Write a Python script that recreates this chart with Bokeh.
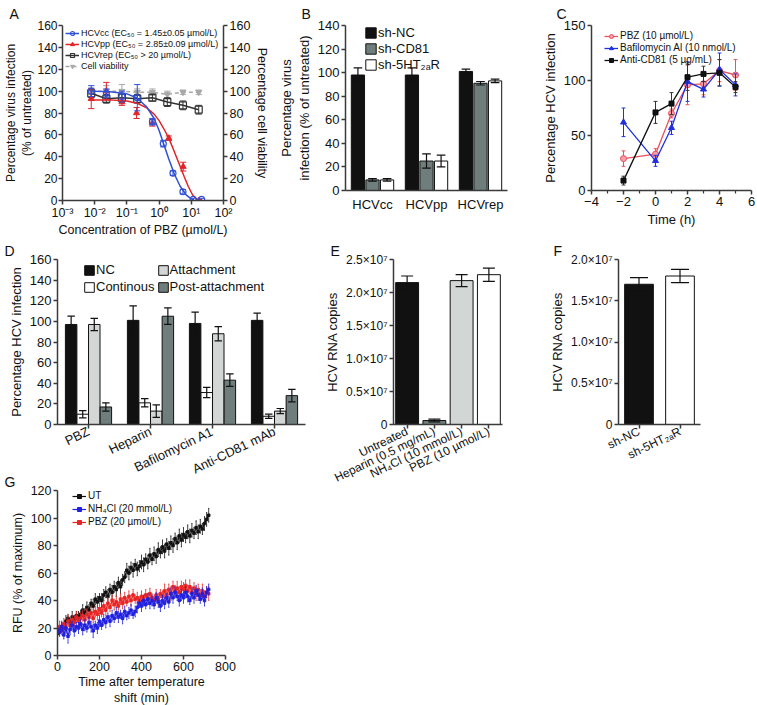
from bokeh.plotting import figure
from bokeh.layouts import row, column
from bokeh.models import ColumnDataSource, Legend, LegendItem, FixedTicker, LinearAxis
from bokeh.transform import dodge
from bokeh.embed import file_html
from bokeh.resources import INLINE

FONT = "Liberation Sans"
AXC = "#3a3a3a"
TXT = "#111111"
BLACK = "#111111"
DGRAY = "#6f7e7c"
LGRAY = "#d2d7d6"
WHITE = "#ffffff"

# ---------------- Panel A data ----------------
a_xticks = [0.001, 0.01, 0.1, 1, 10, 100]
a_xlabels = ["10⁻³", "10⁻²", "10⁻¹", "10⁰", "10¹", "10²"]
a_yticks = [0, 20, 40, 60, 80, 100, 120, 140, 160]
a_cc_x = [0.0078, 0.023, 0.07, 0.21, 0.62, 1.35, 2.7, 5.5, 11.5, 21.0]
a_cc_y = [100, 98, 95, 94, 72, 52, 25, 8, 1, 1]
a_cc_e = [5, 4, 5, 12, 3, 3, 2, 2, 1, 1]
a_cc_fit_x = [0.0075, 0.03, 0.1, 0.2, 0.4, 0.7, 1.0, 1.45, 2.0, 3.0, 4.5, 7.0, 10.0, 12.0]
a_cc_fit_y = [100, 99.5, 97.5, 94, 86, 75, 64, 50, 38, 24, 13, 5, 1.5, 0.5]
a_pp_x = [0.0078, 0.023, 0.07, 0.2, 0.62, 2.0, 5.6, 17.0]
a_pp_y = [93, 100, 90, 80, 71, 57, 31, 0]
a_pp_e = [9, 8, 3, 5, 3, 2, 4, 1]
a_pp_fit_x = [0.0075, 0.03, 0.1, 0.2, 0.4, 0.7, 1.0, 1.5, 2.0, 2.85, 4.0, 6.0, 8.0, 11.0, 15.0, 17.0]
a_pp_fit_y = [92, 92, 91, 89, 85, 79, 73, 64, 57, 46, 35, 22, 13, 5, 1, 0]
a_rep_x = [0.0078, 0.023, 0.07, 0.21, 0.62, 1.8, 5.5, 17.0]
a_rep_y = [98, 93, 94, 93, 94, 90, 87, 83]
a_rep_e = [4, 4, 4, 4, 3, 4, 4, 4]
a_via_x = [0.0078, 0.023, 0.07, 0.21, 0.62, 1.8, 5.5, 17.0]
a_via_y = [100, 100, 100, 99, 99, 97, 99, 99]
a_via_e = [3, 5, 6, 3, 3, 3, 2, 2]

# ---------------- Panel B data ----------------
b_cats = ["HCVcc", "HCVpp", "HCVrep"]
b_nc = [98, 98, 101]
b_nc_e = [6, 6, 2]
b_cd81 = [9, 25, 91]
b_cd81_e = [1, 6, 1.5]
b_5ht = [9, 25, 93]
b_5ht_e = [1, 5, 1.5]
b_yticks = [0, 20, 40, 60, 80, 100, 120, 140]

# ---------------- Panel C data ----------------
c_x = [-2, 0, 1, 2, 3, 4, 5]
c_pbz = [29, 33, 70, 96, 97, 109, 105]
c_pbz_e = [7, 5, 4, 18, 10, 10, 14]
c_baf = [62, 27, 57, 99, 92, 110, 96]
c_baf_e = [13, 5, 6, 18, 7, 15, 10]
c_cd81 = [9, 71, 79, 103, 106, 107, 94]
c_cd81_e = [4, 10, 10, 12, 7, 12, 5]
c_xticks = [-4, -2, 0, 2, 4, 6]
c_xminor = [-3, -1, 1, 3, 5]
c_yticks = [0, 50, 100, 150]

# ---------------- Panel D data ----------------
d_cats = ["PBZ", "Heparin", "Bafilomycin A1", "Anti-CD81 mAb"]
d_nc = [97, 101, 98, 101]
d_nc_e = [8, 14, 11, 7]
d_cont = [10, 21, 31, 8]
d_cont_e = [3.5, 4, 5, 2]
d_att = [97, 13, 88, 13]
d_att_e = [6, 6, 7, 2.5]
d_post = [17, 105, 43, 28]
d_post_e = [4, 8, 6, 6]
d_yticks = [0, 20, 40, 60, 80, 100, 120, 140, 160]

# ---------------- Panel E data ----------------
e_cats = ["Untreated", "Heparin (0.5 mg/mL)", "NH₄Cl (10 mmol/L)", "PBZ (10 µmol/L)"]
e_vals = [2.15e7, 0.06e7, 2.18e7, 2.27e7]
e_errs = [0.1e7, 0.02e7, 0.09e7, 0.1e7]
e_colors = [BLACK, DGRAY, LGRAY, WHITE]
e_yticks = [0, 5000000, 10000000, 15000000, 20000000, 25000000]
e_ylabels = ["0", "0.5×10⁷", "1.0×10⁷", "1.5×10⁷", "2.0×10⁷", "2.5×10⁷"]

# ---------------- Panel F data ----------------
f_cats = ["sh-NC", "sh-5HT₂ₐR"]
f_vals = [1.70e7, 1.80e7]
f_errs = [0.08e7, 0.08e7]
f_colors = [BLACK, WHITE]
f_yticks = [0, 5000000, 10000000, 15000000, 20000000]
f_ylabels = ["0", "0.5×10⁷", "1.0×10⁷", "1.5×10⁷", "2.0×10⁷"]

# ---------------- Panel G data ----------------
g_t = list(range(0, 721, 10))
g_ut = [16, 18, 21, 20, 25, 27, 24, 28, 26, 29,
        28, 30, 33, 31, 35, 33, 38, 36, 41, 39,
        42, 40, 44, 46, 43, 48, 46, 50, 48, 53,
        50, 55, 57, 62, 60, 64, 62, 66, 63, 65,
        68, 66, 70, 68, 73, 70, 74, 72, 77, 75,
        79, 76, 81, 78, 82, 80, 85, 82, 87, 84,
        88, 86, 90, 87, 91, 89, 93, 90, 94, 92,
        96, 99, 102]
g_ut_e = [2, 3, 3, 2, 4, 3, 3, 4, 3, 3,
          4, 3, 4, 3, 4, 4, 3, 5, 4, 4,
          3, 5, 4, 4, 5, 4, 5, 4, 5, 4,
          5, 4, 4, 5, 5, 4, 5, 4, 5, 4,
          5, 5, 4, 5, 5, 4, 5, 5, 5, 4,
          5, 5, 4, 5, 5, 5, 4, 5, 5, 5,
          5, 4, 5, 5, 5, 4, 5, 5, 5, 4,
          5, 5, 5]
g_nh4 = [19, 17, 21, 15, 20, 14, 19, 22, 18, 21,
         20, 23, 19, 22, 20, 24, 21, 18, 22, 20,
         25, 22, 26, 24, 28, 25, 29, 27, 31, 28,
         30, 27, 32, 29, 31, 33, 30, 32, 35, 38,
         36, 40, 37, 41, 38, 40, 37, 42, 39, 36,
         40, 38, 42, 39, 45, 42, 46, 43, 40, 44,
         42, 46, 43, 40, 45, 42, 47, 44, 41, 45,
         40, 46, 48]
g_nh4_e = [3, 3, 4, 3, 4, 5, 4, 3, 4, 3,
           4, 3, 4, 4, 3, 4, 4, 5, 3, 4,
           4, 3, 4, 4, 3, 4, 4, 3, 4, 4,
           3, 4, 4, 3, 4, 4, 3, 4, 4, 3,
           4, 4, 3, 4, 4, 4, 3, 4, 4, 4,
           4, 4, 3, 4, 4, 4, 4, 3, 4, 4,
           4, 4, 4, 3, 4, 4, 4, 4, 3, 4,
           4, 4, 4]
g_pbz = [19, 21, 18, 23, 20, 25, 22, 26, 24, 28,
         25, 27, 29, 26, 30, 28, 31, 27, 32, 30,
         34, 31, 36, 33, 38, 35, 40, 37, 39, 36,
         41, 38, 42, 39, 43, 40, 44, 41, 42, 39,
         43, 40, 44, 41, 45, 42, 40, 44, 41, 45,
         43, 47, 44, 48, 45, 50, 47, 49, 46, 50,
         48, 51, 47, 50, 46, 49, 45, 48, 44, 47,
         43, 46, 45]
g_pbz_e = [3, 4, 3, 4, 3, 4, 4, 3, 4, 4,
           3, 4, 4, 3, 4, 4, 4, 3, 4, 4,
           4, 3, 4, 4, 4, 3, 4, 4, 4, 3,
           4, 4, 4, 3, 4, 4, 4, 3, 4, 4,
           4, 3, 4, 4, 4, 3, 4, 4, 4, 3,
           4, 5, 4, 4, 5, 4, 4, 5, 4, 4,
           5, 4, 4, 5, 4, 4, 5, 4, 4, 5,
           4, 4, 5]
g_xticks = [0, 200, 400, 600, 800]
g_yticks = [0, 20, 40, 60, 80, 100, 120]


def mkfig(fw, fh, bl, br, bt, bb, **kw):
    p = figure(frame_width=fw, frame_height=fh, min_border_left=bl, min_border_right=br,
               min_border_top=bt, min_border_bottom=bb, output_backend="svg",
               toolbar_location=None, **kw)
    p.grid.visible = False
    p.outline_line_color = None
    p.background_fill_color = None
    p.border_fill_color = None
    return p


def style_axes(p, tick_fs="13px", lab_fs="13px"):
    for ax in p.axis:
        ax.axis_line_color = AXC
        ax.axis_line_width = 1.5
        ax.major_tick_line_color = AXC
        ax.major_tick_line_width = 1.5
        ax.major_tick_out = 4
        ax.major_tick_in = 0
        ax.minor_tick_line_color = None
        ax.major_label_text_font = FONT
        ax.major_label_text_font_size = tick_fs
        ax.major_label_text_color = TXT
        ax.major_label_standoff = 2
        ax.axis_label_text_font = FONT
        ax.axis_label_text_font_size = lab_fs
        ax.axis_label_text_font_style = "normal"
        ax.axis_label_text_color = TXT
        ax.axis_label_standoff = 3


def letter(p, txt, off, standoff):
    p.title.text = txt
    p.title.align = "left"
    p.title.offset = off
    p.title.standoff = standoff
    p.title.text_font = FONT
    p.title.text_font_size = "14px"
    p.title.text_font_style = "normal"
    p.title.text_color = TXT


def style_legend(lg, fs, gw, gh, lh, spacing):
    lg.label_text_font = FONT
    lg.label_text_font_size = fs
    lg.label_text_color = TXT
    lg.glyph_width = gw
    lg.glyph_height = gh
    lg.label_height = lh
    lg.label_standoff = 2
    lg.spacing = spacing
    lg.padding = 0
    lg.margin = 0
    lg.border_line_color = None
    lg.background_fill_alpha = 0


def errbars_num(p, x, y, e, color, log=False, cap=0.0, lw=1.0):
    x0 = []
    x1 = []
    for xv in x:
        if log:
            x0.append(xv / cap)
            x1.append(xv * cap)
        else:
            x0.append(xv - cap)
            x1.append(xv + cap)
    lo = [yv - ev for yv, ev in zip(y, e)]
    hi = [yv + ev for yv, ev in zip(y, e)]
    p.segment(x0=x, x1=x, y0=lo, y1=hi, line_color=color, line_width=lw)
    if cap:
        p.segment(x0=x0, x1=x1, y0=hi, y1=hi, line_color=color, line_width=lw)
        p.segment(x0=x0, x1=x1, y0=lo, y1=lo, line_color=color, line_width=lw)


def bars_dodge(p, cats, vals, errs, off, width, color):
    src = ColumnDataSource(dict(cat=cats, top=vals,
                                hi=[v + e for v, e in zip(vals, errs)],
                                lo=[v - e for v, e in zip(vals, errs)]))
    r = p.vbar(x=dodge("cat", off, range=p.x_range), top="top", width=width, source=src,
               fill_color=color, line_color="#111111", line_width=1)
    return r, src


def errs_dodge(p, src, off, cw):
    p.segment(x0=dodge("cat", off, range=p.x_range), x1=dodge("cat", off, range=p.x_range),
              y0="lo", y1="hi", source=src, line_color="#111111", line_width=1.2)
    for k in ("hi", "lo"):
        p.segment(x0=dodge("cat", off - cw, range=p.x_range), x1=dodge("cat", off + cw, range=p.x_range),
                  y0=k, y1=k, source=src, line_color="#111111", line_width=1.2)


# =============== Panel A ===============
BLUE_A = "#3050d8"
RED_A = "#e02428"
GRAY_A = "#a8a8a8"
pA = mkfig(161, 175, 57, 48, 24, 35, x_axis_type="log", x_range=(1e-3, 1e2), y_range=(0, 160))
pA.add_layout(LinearAxis(), "right")
style_axes(pA, tick_fs="12.5px", lab_fs="12.5px")
pA.xaxis.ticker = FixedTicker(ticks=a_xticks)
pA.xaxis.major_label_overrides = dict(zip(a_xticks, a_xlabels))
pA.xaxis.major_label_standoff = 1
pA.xaxis.axis_label_standoff = 0
for ax in pA.yaxis:
    ax.ticker = FixedTicker(ticks=a_yticks)
pA.yaxis[0].axis_label = "Percentage virus infection\n(% of untreated)"
pA.yaxis[0].axis_label_standoff = 0
pA.yaxis[0].major_label_standoff = 1
pA.yaxis[0].major_label_text_font_size = "12px"
pA.yaxis[0].axis_label_text_font_size = "12px"
pA.yaxis[1].axis_label = "Percentage cell viability"
pA.yaxis[1].axis_label_standoff = 2
pA.xaxis.axis_label = "Concentration of PBZ (µmol/L)"

r_via_l = pA.line(a_via_x, a_via_y, line_color=GRAY_A, line_width=1.5, line_dash="4 3")
errbars_num(pA, a_via_x, a_via_y, a_via_e, GRAY_A, log=True, cap=1.25)
r_via_m = pA.scatter(a_via_x, a_via_y, marker="inverted_triangle", size=6, fill_color=GRAY_A, line_color=GRAY_A)

r_rep_l = pA.line(a_rep_x, a_rep_y, line_color="#333333", line_width=1.5)
errbars_num(pA, a_rep_x, a_rep_y, a_rep_e, "#333333", log=True, cap=1.25)
r_rep_m = pA.scatter(a_rep_x, a_rep_y, marker="square", size=7, fill_color=None, line_color="#333333", line_width=1.2)

r_pp_l = pA.line(a_pp_fit_x, a_pp_fit_y, line_color=RED_A, line_width=1.5)
errbars_num(pA, a_pp_x, a_pp_y, a_pp_e, RED_A, log=True, cap=1.25)
r_pp_m = pA.scatter(a_pp_x, a_pp_y, marker="triangle", size=6, fill_color=RED_A, line_color=RED_A)

r_cc_l = pA.line(a_cc_fit_x, a_cc_fit_y, line_color=BLUE_A, line_width=1.5)
errbars_num(pA, a_cc_x, a_cc_y, a_cc_e, BLUE_A, log=True, cap=1.25)
r_cc_m = pA.scatter(a_cc_x, a_cc_y, marker="circle", size=6, fill_color=None, line_color=BLUE_A, line_width=1.2)

lgA = Legend(items=[
    LegendItem(label="HCVcc (EC₅₀ = 1.45±0.05 µmol/L)", renderers=[r_cc_l, r_cc_m]),
    LegendItem(label="HCVpp (EC₅₀ = 2.85±0.09 µmol/L)", renderers=[r_pp_l, r_pp_m]),
    LegendItem(label="HCVrep (EC₅₀ > 20 µmol/L)", renderers=[r_rep_l, r_rep_m]),
    LegendItem(label="Cell viability", renderers=[r_via_l, r_via_m]),
])
style_legend(lgA, "9px", 14, 10, 10, 1)
lgA.location = (3, 129)
pA.add_layout(lgA)
letter(pA, "A", -53, 7)

# =============== Panel B ===============
pB = mkfig(162, 165, 73, 2, 24, 45, x_range=b_cats, y_range=(0, 140))
style_axes(pB)
pB.yaxis.ticker = FixedTicker(ticks=b_yticks)
pB.yaxis.axis_label = "Percentage virus\ninfection (% of untreated)"
pB.xaxis.major_tick_out = 0
pB.xaxis.major_label_standoff = 6
bw = 0.245
rb1, sb1 = bars_dodge(pB, b_cats, b_nc, b_nc_e, -0.27, bw, BLACK)
rb2, sb2 = bars_dodge(pB, b_cats, b_cd81, b_cd81_e, 0.0, bw, DGRAY)
rb3, sb3 = bars_dodge(pB, b_cats, b_5ht, b_5ht_e, 0.27, bw, WHITE)
errs_dodge(pB, sb1, -0.27, 0.08)
errs_dodge(pB, sb2, 0.0, 0.08)
errs_dodge(pB, sb3, 0.27, 0.08)
lgB = Legend(items=[
    LegendItem(label="sh-NC", renderers=[rb1]),
    LegendItem(label="sh-CD81", renderers=[rb2]),
    LegendItem(label="sh-5HT₂ₐR", renderers=[rb3]),
])
style_legend(lgB, "13px", 13, 13, 15, 1)
lgB.label_standoff = 1
lgB.location = (19, 118)
pB.add_layout(lgB)
letter(pB, "B", -44, 7)

# =============== Panel C ===============
RED_C = "#e8505c"
BLUE_C = "#2030e0"
pC = mkfig(160, 165, 82, 12, 24, 45, x_range=(-4, 6), y_range=(0, 150))
style_axes(pC)
pC.xaxis.ticker = FixedTicker(ticks=c_xticks, minor_ticks=c_xminor)
pC.xaxis.minor_tick_line_color = AXC
pC.xaxis.minor_tick_line_width = 1.2
pC.xaxis.minor_tick_out = 3
pC.xaxis.minor_tick_in = 0
pC.yaxis.ticker = FixedTicker(ticks=c_yticks)
pC.yaxis.axis_label = "Percentage HCV infection"
pC.xaxis.axis_label = "Time (h)"

rc1l = pC.line(c_x, c_pbz, line_color=RED_C, line_width=1.3)
errbars_num(pC, c_x, c_pbz, c_pbz_e, RED_C, cap=0.12)
rc1m = pC.scatter(c_x, c_pbz, marker="circle", size=6, fill_color="#f4a0a6", line_color=RED_C)
rc2l = pC.line(c_x, c_baf, line_color=BLUE_C, line_width=1.3)
errbars_num(pC, c_x, c_baf, c_baf_e, BLUE_C, cap=0.12)
rc2m = pC.scatter(c_x, c_baf, marker="triangle", size=6, fill_color=BLUE_C, line_color=BLUE_C)
rc3l = pC.line(c_x, c_cd81, line_color=BLACK, line_width=1.3)
errbars_num(pC, c_x, c_cd81, c_cd81_e, "#333333", cap=0.12)
rc3m = pC.scatter(c_x, c_cd81, marker="square", size=5, fill_color=BLACK, line_color=BLACK)
lgC = Legend(items=[
    LegendItem(label="PBZ (10 µmol/L)", renderers=[rc1l, rc1m]),
    LegendItem(label="Bafilomycin Al (10 nmol/L)", renderers=[rc2l, rc2m]),
    LegendItem(label="Anti-CD81 (5 µg/mL)", renderers=[rc3l, rc3m]),
])
style_legend(lgC, "10px", 14, 10, 10, 1)
lgC.location = (13, 125)
pC.add_layout(lgC)
letter(pC, "C", -35, 7)

# =============== Panel D ===============
pD = mkfig(248, 165, 57, 13, 20, 62, x_range=d_cats, y_range=(0, 160))
style_axes(pD)
pD.yaxis.ticker = FixedTicker(ticks=d_yticks)
pD.yaxis.axis_label = "Percentage HCV infection"
pD.xaxis.major_label_orientation = 0.45
dw = 0.185
rd1, sd1 = bars_dodge(pD, d_cats, d_nc, d_nc_e, -0.28, dw, BLACK)
rd2, sd2 = bars_dodge(pD, d_cats, d_cont, d_cont_e, -0.093, dw, WHITE)
rd3, sd3 = bars_dodge(pD, d_cats, d_att, d_att_e, 0.093, dw, LGRAY)
rd4, sd4 = bars_dodge(pD, d_cats, d_post, d_post_e, 0.28, dw, DGRAY)
errs_dodge(pD, sd1, -0.28, 0.06)
errs_dodge(pD, sd2, -0.093, 0.06)
errs_dodge(pD, sd3, 0.093, 0.06)
errs_dodge(pD, sd4, 0.28, 0.06)
lgD = Legend(items=[
    LegendItem(label="NC", renderers=[rd1]),
    LegendItem(label="Continous", renderers=[rd2]),
    LegendItem(label="Attachment", renderers=[rd3]),
    LegendItem(label="Post-attachment", renderers=[rd4]),
], ncols=2)
style_legend(lgD, "13px", 12, 12, 15, 2)
lgD.label_standoff = 1
lgD.location = (26, 130)
pD.add_layout(lgD)
letter(pD, "D", -53, 2)

# =============== Panel E ===============
pE = mkfig(109, 165, 75, 38, 20, 55, x_range=e_cats, y_range=(0, 2.5e7))
style_axes(pE, tick_fs="12px")
pE.yaxis.ticker = FixedTicker(ticks=e_yticks)
pE.yaxis.major_label_overrides = dict(zip(e_yticks, e_ylabels))
pE.yaxis.axis_label = "HCV RNA copies"
pE.xaxis.major_label_orientation = 0.45
srcE = ColumnDataSource(dict(cat=e_cats, top=e_vals, color=e_colors,
                             hi=[v + e for v, e in zip(e_vals, e_errs)],
                             lo=[v - e for v, e in zip(e_vals, e_errs)]))
pE.vbar(x="cat", top="top", width=0.84, fill_color="color", line_color="#111111", line_width=1, source=srcE)
errs_dodge(pE, srcE, 0.0, 0.22)
letter(pE, "E", -63, 2)

# =============== Panel F ===============
pF = mkfig(82, 165, 78, 57, 20, 55, x_range=f_cats, y_range=(0, 2.0e7))
style_axes(pF, tick_fs="12px")
pF.yaxis.ticker = FixedTicker(ticks=f_yticks)
pF.yaxis.major_label_overrides = dict(zip(f_yticks, f_ylabels))
pF.yaxis.axis_label = "HCV RNA copies"
pF.xaxis.major_label_orientation = 0.45
srcF = ColumnDataSource(dict(cat=f_cats, top=f_vals, color=f_colors,
                             hi=[v + e for v, e in zip(f_vals, f_errs)],
                             lo=[v - e for v, e in zip(f_vals, f_errs)]))
pF.vbar(x="cat", top="top", width=0.7, fill_color="color", line_color="#111111", line_width=1, source=srcF)
errs_dodge(pF, srcF, 0.0, 0.22)
letter(pF, "F", -65, 2)

# =============== Panel G ===============
BLUE_G = "#2020e0"
RED_G = "#e82424"
pG = mkfig(168, 165, 57, 75, 20, 50, x_range=(0, 800), y_range=(0, 120))
style_axes(pG, tick_fs="12.5px", lab_fs="12.5px")
pG.xaxis.ticker = FixedTicker(ticks=g_xticks)
pG.yaxis.ticker = FixedTicker(ticks=g_yticks)
pG.xaxis.axis_label_standoff = 1
pG.yaxis.axis_label = "RFU (% of maximum)"
pG.xaxis.axis_label = "Time after temperature\nshift (min)"
rg = []
for ys, es, col in ((g_ut, g_ut_e, BLACK), (g_pbz, g_pbz_e, RED_G), (g_nh4, g_nh4_e, BLUE_G)):
    errbars_num(pG, g_t, ys, es, col, cap=2.5, lw=0.8)
    l = pG.line(g_t, ys, line_color=col, line_width=1.2)
    m = pG.scatter(g_t, ys, marker="square", size=2.5, fill_color=col, line_color=col)
    rg.append((l, m))
lgG = Legend(items=[
    LegendItem(label="UT", renderers=list(rg[0])),
    LegendItem(label="NH₄Cl (20 mmol/L)", renderers=list(rg[2])),
    LegendItem(label="PBZ (20 µmol/L)", renderers=list(rg[1])),
])
style_legend(lgG, "10px", 14, 10, 11, 2)
lgG.location = (15, 128)
pG.add_layout(lgG)
letter(pG, "G", -53, 2)
try:
    pG.margin = (-16, 0, 0, 0)
except Exception:
    pass

layout = column(row(pA, pB, pC), row(column(pD, pG), pE, pF))
open("out.html", "w").write(file_html(layout, INLINE))
